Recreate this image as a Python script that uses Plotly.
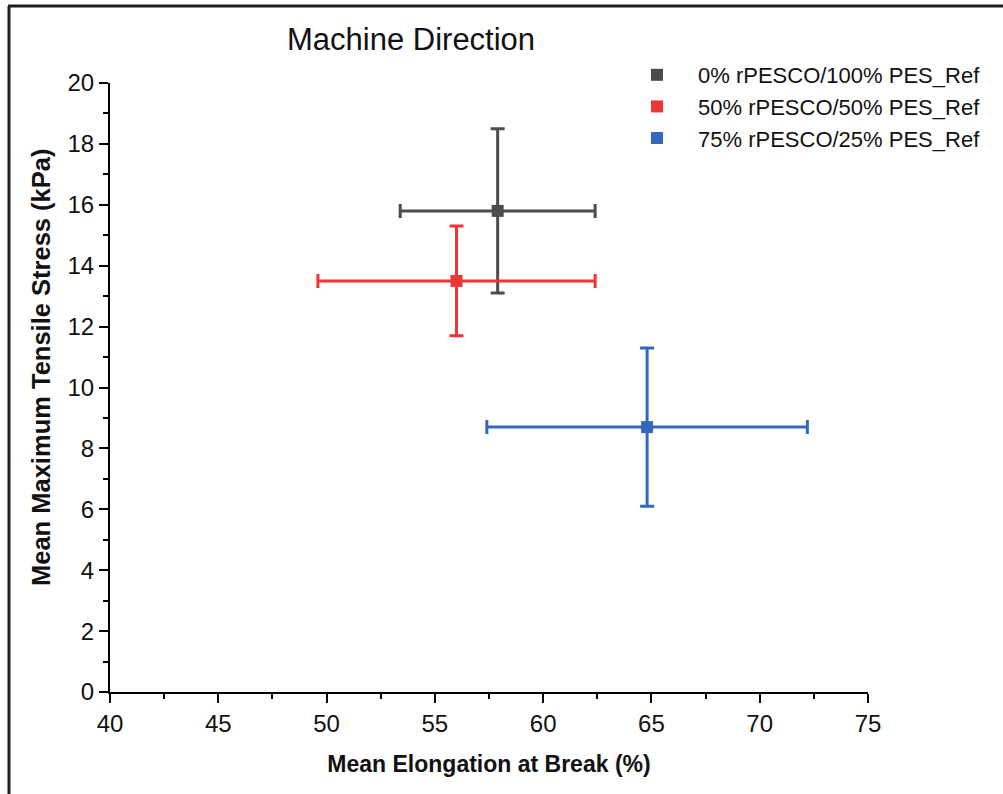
import plotly.graph_objects as go

series_names = ["0% rPESCO/100% PES_Ref", "50% rPESCO/50% PES_Ref", "75% rPESCO/25% PES_Ref"]
elongation_mean = [57.9, 56.0, 64.8]
elongation_err = [4.5, 6.4, 7.4]
stress_mean = [15.8, 13.5, 8.7]
stress_err = [2.7, 1.8, 2.6]
colors = ["#4d4d4d", "#ee3535", "#3468bf"]

x_ticks = [40, 45, 50, 55, 60, 65, 70, 75]
y_ticks = [0, 2, 4, 6, 8, 10, 12, 14, 16, 18, 20]

fig = go.Figure()
for name, xm, xe, ym, ye, c in zip(series_names, elongation_mean, elongation_err,
                                   stress_mean, stress_err, colors):
    fig.add_trace(go.Scatter(
        x=[xm], y=[ym], name=name, mode="markers",
        marker=dict(symbol="square", size=12, color=c),
        error_x=dict(type="data", array=[xe], color=c, thickness=3, width=7),
        error_y=dict(type="data", array=[ye], color=c, thickness=3, width=7),
    ))

font = "Liberation Sans, Arial, sans-serif"
tick_font = dict(family=font, size=24, color="#111111")
fig.update_xaxes(
    range=[40, 75], tickvals=x_ticks, ticktext=[str(v) for v in x_ticks],
    showline=True, linecolor="#000000", linewidth=2,
    ticks="outside", ticklen=9, tickwidth=2, tickcolor="#000000",
    showgrid=False, zeroline=False,
    tickfont=tick_font,
    minor=dict(dtick=2.5, tick0=40, ticks="outside", ticklen=5, tickwidth=2, tickcolor="#000000"),
    title=dict(text="<b>Mean Elongation at Break (%)</b>", font=dict(family=font, size=23, color="#111111"), standoff=20),
)
fig.update_yaxes(
    range=[0, 20], tickvals=y_ticks, ticktext=[str(v) for v in y_ticks],
    showline=True, linecolor="#000000", linewidth=2,
    ticks="outside", ticklen=9, tickwidth=2, tickcolor="#000000",
    showgrid=False, zeroline=False,
    tickfont=tick_font,
    minor=dict(dtick=1, tick0=0, ticks="outside", ticklen=5, tickwidth=2, tickcolor="#000000"),
)

pw, ph = 1003 - 110 - 135, 794 - 83 - 102
def px(xp):
    return (xp - 110) / pw
def py(yp):
    return (794 - 102 - yp) / ph

fig.update_layout(
    width=1003, height=794,
    margin=dict(l=110, r=135, t=83, b=102),
    paper_bgcolor="#ffffff", plot_bgcolor="#ffffff",
    font=dict(family=font, color="#111111"),
    showlegend=True,
    legend=dict(x=px(616), y=py(54), xanchor="left", yanchor="top",
                font=dict(family=font, size=22, color="#111111"),
                bgcolor="rgba(0,0,0,0)", tracegroupgap=0, itemsizing="constant",
                itemwidth=72),
    annotations=[
        dict(text="Machine Direction", x=px(411), y=py(40), xref="paper", yref="paper",
             xanchor="center", yanchor="middle", showarrow=False,
             font=dict(family=font, size=31, color="#111111")),
        dict(text="<b>Mean Maximum Tensile Stress (kPa)</b>", x=px(41), y=py(368),
             xref="paper", yref="paper", xanchor="center", yanchor="middle",
             textangle=-90, showarrow=False,
             font=dict(family=font, size=25.5, color="#111111")),
    ],
)

# outer frame lines (top and left) as in the reference
fig.add_shape(type="line", xref="paper", yref="paper", x0=px(8), x1=px(1003), y0=py(6), y1=py(6),
              line=dict(color="#231f20", width=3))
fig.add_shape(type="line", xref="paper", yref="paper", x0=px(9), x1=px(9), y0=py(6), y1=py(794),
              line=dict(color="#231f20", width=3))

fig.write_html("out.html")
